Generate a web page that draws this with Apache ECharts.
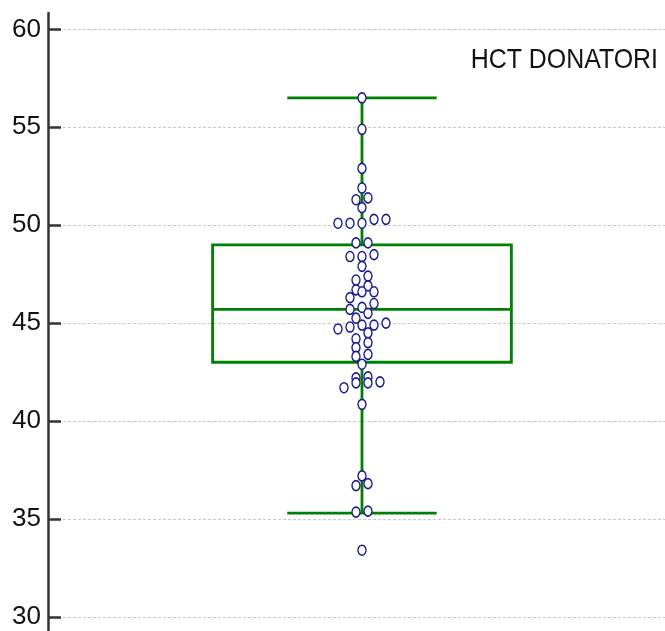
<!DOCTYPE html>
<html>
<head>
<meta charset="utf-8">
<script src="https://cdn.jsdelivr.net/npm/echarts@6/dist/echarts.min.js"></script>
<style>
html,body{margin:0;padding:0;background:#fff;}
#chart{width:665px;height:631px;}
</style>
</head>
<body>
<div id="chart"></div>
<script>
// ---- data ----
var title = 'HCT DONATORI';
var yTicks = [30, 35, 40, 45, 50, 55, 60];
// box-plot statistics: [lower whisker, Q1, median, Q3, upper whisker]
var boxStats = [35.3, 43.0, 45.7, 49.0, 56.5];
// individual observations (HCT values)
var hctValues = [
  56.5, 54.9, 52.9, 51.9, 51.3, 51.4, 50.9, 50.1, 50.1, 50.1, 50.3, 50.3,
  49.1, 49.1, 48.4, 48.4, 48.5, 47.9, 47.4, 47.2, 46.9, 46.7, 46.6, 46.6,
  46.3, 46.0, 45.7, 45.8, 45.5, 45.25, 44.7, 44.8, 44.9, 44.9, 45.0, 44.5,
  44.2, 44.0, 43.75, 43.3, 43.4, 42.9, 42.2, 42.25, 41.95, 41.95, 42.0, 41.7,
  40.85, 37.2, 36.7, 36.8, 35.35, 35.4, 33.4
];
// beeswarm slot of each observation (0 = centre line)
var hctSlots = [
  0, 0, 0, 0, -1, 1, 0, -4, -2, 0, 2, 4,
  -1, 1, -2, 0, 2, 0, 1, -1, 1, -1, 0, 2,
  -2, 2, -2, 0, 1, -1, -4, -2, 0, 2, 4, 1,
  -1, 1, -1, -1, 1, 0, -1, 1, -1, 1, 3, -3,
  0, 0, -1, 1, -1, 1, 0
];

var scatterData = hctValues.map(function (v, i) { return [hctSlots[i], v]; });

var GREEN = '#008000';
var BOX_HALF = 24.9;   // in slot units
var CAP_HALF = 12.45;
var FONT = '"Liberation Sans", Arial, sans-serif';

var chart = echarts.init(document.getElementById('chart'), null, {renderer: 'canvas'});
chart.setOption({
  animation: false,
  backgroundColor: '#ffffff',
  graphic: [{
    type: 'text',
    right: 7,
    top: 46,
    scaleX: 0.89,
    style: {
      text: title,
      font: '28px ' + FONT,
      fill: '#111'
    }
  }],
  grid: [
    {left: 48, right: 0, top: 29.4, bottom: 14.2},
    {left: 48, right: 0, top: 13, bottom: 0}
  ],
  xAxis: [
    {type: 'value', gridIndex: 0, min: -52.33, max: 50.5, show: false},
    {type: 'value', gridIndex: 1, min: 0, max: 1, show: false}
  ],
  yAxis: [
    {
      type: 'value', gridIndex: 0, min: yTicks[0], max: yTicks[yTicks.length - 1], interval: 5,
      axisLine: {show: false, onZero: false},
      axisTick: {show: true, inside: true, length: 13, lineStyle: {color: '#333', width: 2.5}},
      axisLabel: {
        margin: 7, color: '#111', fontSize: 26, fontFamily: FONT
      },
      splitLine: {show: true, lineStyle: {color: '#c8c8c8', width: 1, type: [3, 2]}}
    },
    {
      type: 'value', gridIndex: 1, min: 0, max: 1,
      axisLine: {show: true, onZero: false, lineStyle: {color: '#333', width: 2.5}},
      axisTick: {show: false}, axisLabel: {show: false}, splitLine: {show: false}
    }
  ],
  series: [
    {
      type: 'custom',
      xAxisIndex: 0, yAxisIndex: 0,
      data: [boxStats],
      encode: {y: [0, 1, 2, 3, 4]},
      z: 2,
      renderItem: function (params, api) {
        var lo = api.value(0), q1 = api.value(1), med = api.value(2), q3 = api.value(3), hi = api.value(4);
        var pL = api.coord([-BOX_HALF, q1]);
        var pR = api.coord([BOX_HALF, q3]);
        var c = api.coord([0, med]);
        var cL = api.coord([-CAP_HALF, lo]);
        var cR = api.coord([CAP_HALF, hi]);
        var pHi = api.coord([0, hi]);
        var pLo = api.coord([0, lo]);
        var st = {stroke: GREEN, lineWidth: 2.8, fill: null};
        return {
          type: 'group',
          children: [
            {type: 'line', shape: {x1: pHi[0], y1: pHi[1], x2: pHi[0], y2: pR[1]}, style: st},
            {type: 'line', shape: {x1: pLo[0], y1: pLo[1], x2: pLo[0], y2: pL[1]}, style: st},
            {type: 'line', shape: {x1: cL[0], y1: cR[1], x2: cR[0], y2: cR[1]}, style: st},
            {type: 'line', shape: {x1: cL[0], y1: cL[1], x2: cR[0], y2: cL[1]}, style: st},
            {type: 'rect', shape: {x: pL[0], y: pR[1], width: pR[0] - pL[0], height: pL[1] - pR[1]}, style: st},
            {type: 'line', shape: {x1: pL[0], y1: c[1], x2: pR[0], y2: c[1]}, style: st}
          ]
        };
      }
    },
    {
      type: 'scatter',
      xAxisIndex: 0, yAxisIndex: 0,
      data: scatterData,
      z: 5,
      symbol: 'path://M0,-1A1,1 0 1,1 0,1A1,1 0 1,1 0,-1Z',
      symbolSize: [8, 10],
      itemStyle: {color: '#ffffff', borderColor: '#1a1a8c', borderWidth: 1.5, opacity: 1}
    }
  ]
});
</script>
</body>
</html>
